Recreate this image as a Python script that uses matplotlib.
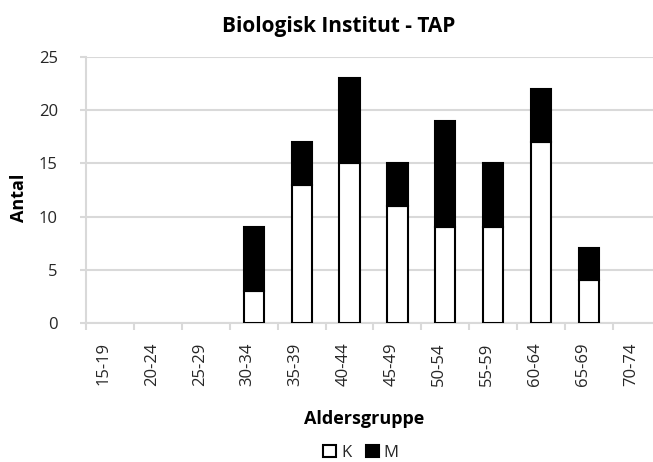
import numpy as np
import matplotlib.pyplot as plt
import matplotlib.transforms as mtransforms

# Data
aldersgrupper = ['15-19', '20-24', '25-29', '30-34', '35-39', '40-44',
                 '45-49', '50-54', '55-59', '60-64', '65-69', '70-74']
k_values = [0, 0, 0, 3, 13, 15, 11, 9, 9, 17, 4, 0]
m_values = [0, 0, 0, 6, 4, 8, 4, 10, 6, 5, 3, 0]

plt.rcParams['font.family'] = ['Open Sans', 'DejaVu Sans']
grid_col = '#d9d9d9'
text_col = '#262626'

fig = plt.figure(figsize=(6.53, 4.62), dpi=100)
# plot area runs slightly past the right edge, as in the reference
ax = fig.add_axes([0.1317, 0.3009, 0.8805, 0.5758])

x = np.arange(len(aldersgrupper))
k = np.array(k_values)
m = np.array(m_values)
bw = 0.42

# skip empty bars so no edge line is drawn at zero
mask = (k + m) > 0
ax.bar(x[mask], k[mask], width=bw, color='white', edgecolor='black',
       linewidth=1.5, label='K', zorder=3)
ax.bar(x[mask], m[mask], width=bw, bottom=k[mask], color='black',
       edgecolor='black', linewidth=1.5, label='M', zorder=3)

ax.set_xlim(-0.5, len(aldersgrupper) - 0.5)
ax.set_ylim(0, 25)
ax.set_yticks(range(0, 26, 5))
ax.yaxis.grid(True, color=grid_col, linewidth=1.5, zorder=0)
ax.set_axisbelow(True)

ax.set_xticks(x)
ax.set_xticklabels(aldersgrupper, rotation=90, fontsize=12, color=text_col)
ax.set_xticks(np.arange(-0.5, len(aldersgrupper), 1.0), minor=True)
ax.tick_params(axis='x', which='major', length=0, pad=14)
ax.tick_params(axis='x', which='minor', length=5, color=grid_col, width=1.5)
ax.tick_params(axis='y', length=4.3, color=grid_col, width=1.5, labelsize=12,
               labelcolor=text_col, pad=16)

# rotated labels sit a little left of the bar centres in the reference
shift = mtransforms.ScaledTranslation(-0.06, 0, fig.dpi_scale_trans)
for lbl in ax.get_xticklabels():
    lbl.set_transform(lbl.get_transform() + shift)

for side in ['top', 'right']:
    ax.spines[side].set_visible(False)
for side in ['left', 'bottom']:
    ax.spines[side].set_color(grid_col)
    ax.spines[side].set_linewidth(1.5)

fig.text(0.518, 0.931, 'Biologisk Institut - TAP', fontsize=15,
         fontweight='bold', ha='center', va='baseline', color='black')
fig.text(0.029, 0.571, 'Antal', fontsize=13, fontweight='bold',
         rotation=90, ha='center', va='center', color='black')
fig.text(0.557, 0.082, 'Aldersgruppe', fontsize=13, fontweight='bold',
         ha='center', va='baseline', color='black')

fig.legend(loc='center', bbox_to_anchor=(0.553, 0.02), ncol=2,
           frameon=False, fontsize=12, handlelength=0.75, handleheight=0.75,
           handletextpad=0.3, columnspacing=0.9, borderpad=0,
           labelcolor=text_col)

fig.savefig('out.png', dpi=100)
